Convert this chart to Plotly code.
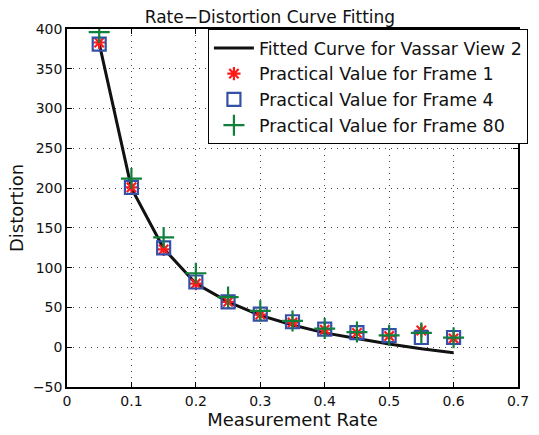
import plotly.graph_objects as go

rate = [0.05, 0.1, 0.15, 0.2, 0.25, 0.3, 0.35, 0.4, 0.45, 0.5, 0.55, 0.6]
fitted = [382, 200, 124, 80, 57, 40, 28, 18, 11, 4, -2, -7]
frame1 = [383, 201, 123, 80, 57, 41, 31, 22, 18, 14, 21, 11]
frame4 = [381, 201, 125, 82, 57, 41.5, 32, 22.7, 18.4, 14.7, 12.2, 12.2]
frame80 = [396, 212, 138, 93, 63, 45.8, 33, 23.5, 19, 15, 18, 12]

xticks = [0, 0.1, 0.2, 0.3, 0.4, 0.5, 0.6, 0.7]
xticklabels = ["0", "0.1", "0.2", "0.3", "0.4", "0.5", "0.6", "0.7"]
yticks = [-50, 0, 50, 100, 150, 200, 250, 300, 350, 400]
yticklabels = ["\u221250", "0", "50", "100", "150", "200", "250", "300", "350", "400"]

FONT = "DejaVu Sans, Liberation Sans, Arial, sans-serif"
RED = "#ff1a1a"
BLUE = "#3550a8"
GREEN = "#10803a"

fig = go.Figure()
fig.add_trace(go.Scatter(x=rate, y=fitted, mode="lines",
                         line=dict(color="#111111", width=3),
                         name="Fitted Curve for Vassar View 2"))
fig.add_trace(go.Scatter(x=rate, y=frame1, mode="markers",
                         marker=dict(symbol="asterisk-open", size=11, color=RED,
                                     line=dict(color=RED, width=2.2)),
                         name="Practical Value for Frame 1"))
fig.add_trace(go.Scatter(x=rate, y=frame4, mode="markers",
                         marker=dict(symbol="square-open", size=13, color=BLUE,
                                     line=dict(color=BLUE, width=2.2)),
                         name="Practical Value for Frame 4"))
fig.add_trace(go.Scatter(x=rate, y=frame80, mode="markers",
                         marker=dict(symbol="cross-thin-open", size=15, color=GREEN,
                                     line=dict(color=GREEN, width=2.2)),
                         name="Practical Value for Frame 80"))

axis_common = dict(
    showline=True, linecolor="black", linewidth=1.5, mirror="ticks",
    ticks="inside", ticklen=5, tickcolor="black",
    showgrid=True, gridcolor="#444444", griddash="1px,5px", gridwidth=1,
    zeroline=False,
    tickfont=dict(family=FONT, size=14, color="#111111"),
)

fig.update_layout(
    width=539, height=435,
    margin=dict(l=67, r=11, t=29, b=48),
    paper_bgcolor="white", plot_bgcolor="white",
    title=dict(text="Rate\u2212Distortion Curve Fitting", x=0.45, xanchor="center",
               xref="paper", y=0.975, yanchor="top",
               font=dict(family=FONT, size=17, color="#111111")),
    xaxis=dict(range=[0, 0.7], tickvals=xticks, ticktext=xticklabels,
               title=dict(text="Measurement Rate", standoff=3,
                          font=dict(family=FONT, size=18, color="#111111")),
               **axis_common),
    yaxis=dict(range=[-50, 400], tickvals=yticks, ticktext=yticklabels,
               title=dict(text="Distortion", standoff=5,
                          font=dict(family=FONT, size=18, color="#111111")),
               **axis_common),
    legend=dict(x=1.022, y=1, xanchor="right", yanchor="top",
                bgcolor="white", bordercolor="black", borderwidth=1,
                font=dict(family=FONT, size=17.5, color="#111111"),
                tracegroupgap=0, itemwidth=40),
    showlegend=True,
)

fig.write_html("out.html")
